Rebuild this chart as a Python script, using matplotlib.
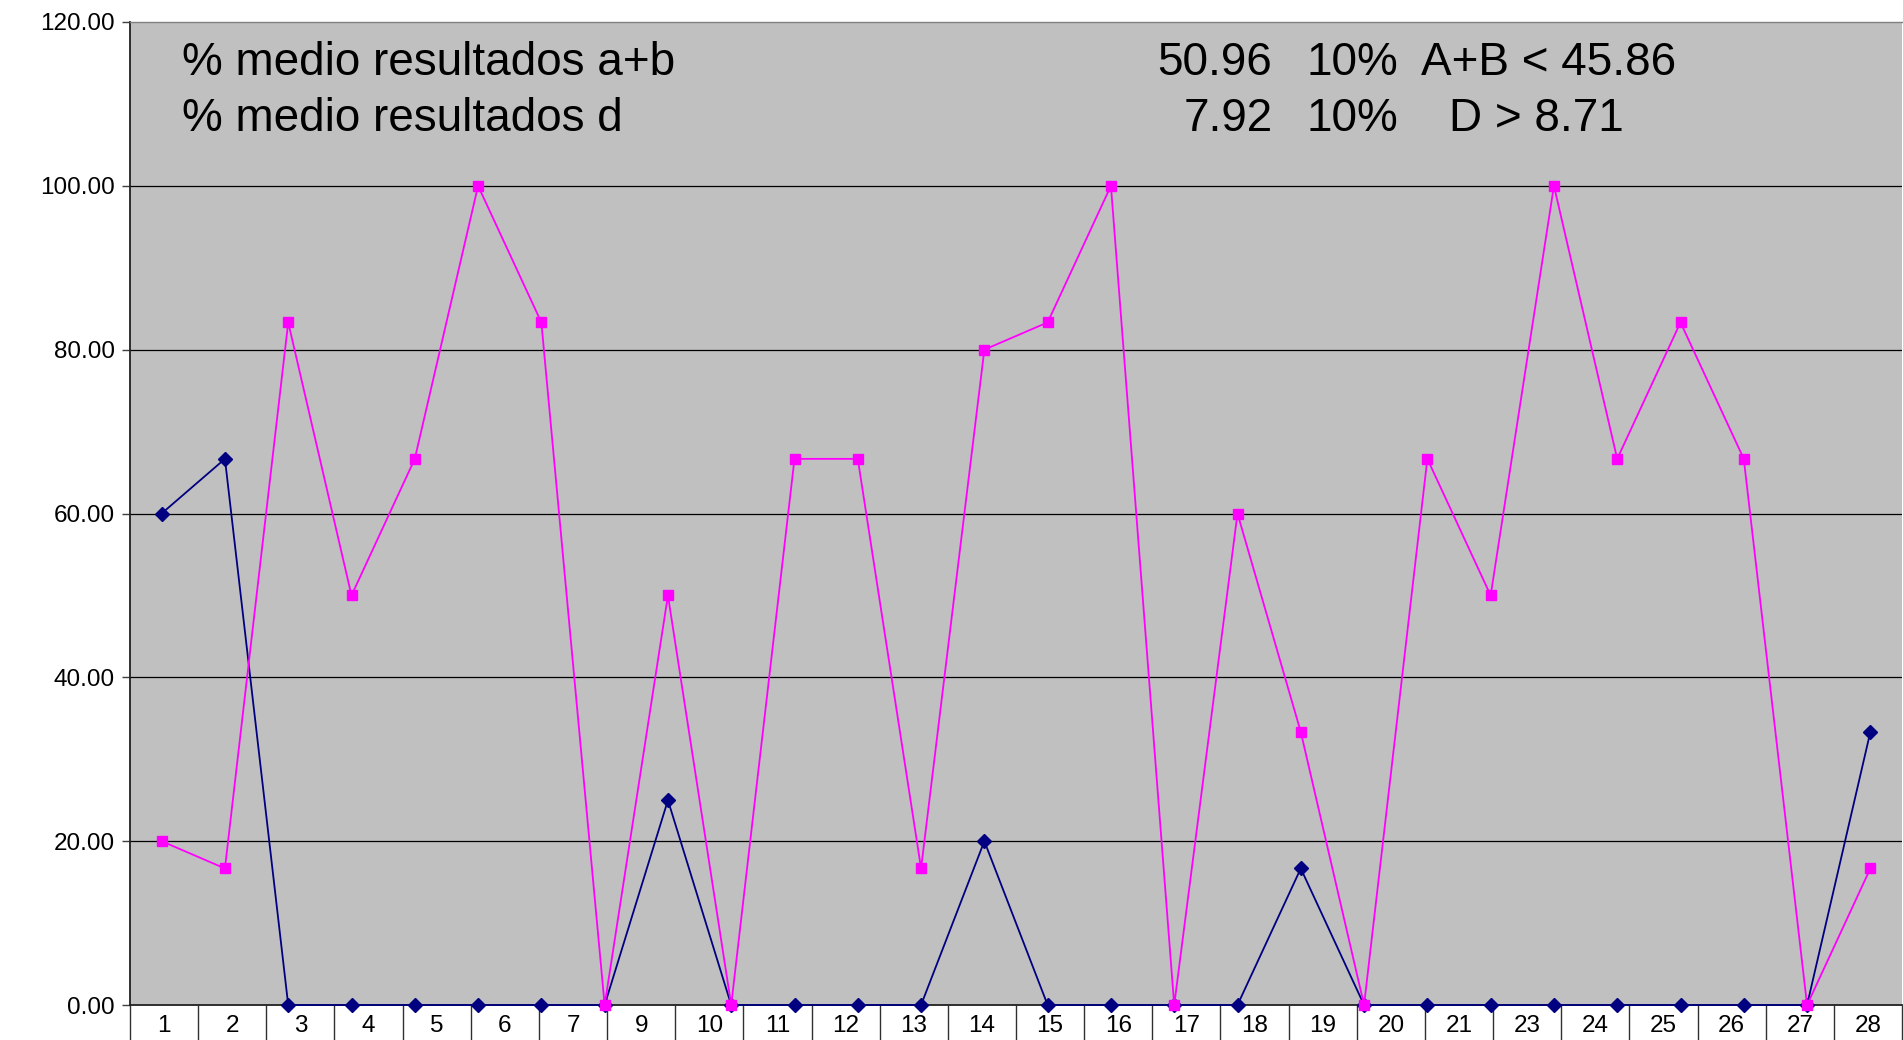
import numpy as np
import matplotlib
matplotlib.use('Agg')
import matplotlib.pyplot as plt

plt.rcParams['font.family'] = ['Liberation Sans', 'DejaVu Sans']

# Data (28 points per series)
points = list(range(1, 29))
pct_d = [60, 66.67, 0, 0, 0, 0, 0, 0, 25, 0, 0, 0, 0, 20, 0, 0, 0, 0, 16.67, 0,
         0, 0, 0, 0, 0, 0, 0, 33.33]
pct_ab = [20, 16.67, 83.33, 50, 66.67, 100, 83.33, 0, 50, 0, 66.67, 66.67, 16.67, 80,
          83.33, 100, 0, 60, 33.33, 0, 66.67, 50, 100, 66.67, 83.33, 66.67, 0, 16.67]

# category labels of the axis (8 and 22 are missing in the original)
cat_labels = ['1', '2', '3', '4', '5', '6', '7', '9', '10', '11', '12', '13', '14',
              '15', '16', '17', '18', '19', '20', '21', '23', '24', '25', '26', '27', '28']

y_ticks = [0, 20, 40, 60, 80, 100, 120]

W, H = 1903, 1040
fig = plt.figure(figsize=(W / 100, H / 100), dpi=100)
fig.patch.set_facecolor('white')
ax = fig.add_axes([130 / W, 35 / H, 1772 / W, 983 / H])
ax.set_facecolor('#C0C0C0')

n = len(points)
x = np.arange(n) + 0.5
ax.plot(x, pct_d, color='#000080', lw=1.3, marker='D', ms=7.5,
        mfc='#000080', mec='#000080', clip_on=False, zorder=3)
ax.plot(x, pct_ab, color='#FF00FF', lw=1.3, marker='s', ms=7.5,
        mfc='#FF00FF', mec='#FF00FF', clip_on=False, zorder=4)

ax.set_xlim(0, n)
ax.set_ylim(0, 120)

# y axis
ax.set_yticks(y_ticks)
ax.set_yticklabels(['%.2f' % v for v in y_ticks], fontsize=17.5)
ax.tick_params(axis='y', direction='out', length=6, width=1, pad=5, color='#404040')
for v in y_ticks[1:-1]:
    ax.axhline(v, color='black', lw=0.9, zorder=1)

# x axis: 26 category cells spanning the width
ncat = len(cat_labels)
bounds = np.arange(ncat + 1) * n / ncat
centers = (np.arange(ncat) + 0.5) * n / ncat
ax.set_xticks(bounds)
ax.set_xticklabels([''] * len(bounds))
ax.tick_params(axis='x', which='major', direction='out', length=26, width=1, color='#303030')
ax.set_xticks(centers, minor=True)
ax.set_xticklabels(cat_labels, minor=True, fontsize=17.5)
ax.tick_params(axis='x', which='minor', length=0, pad=7)

for s in ['left', 'bottom']:
    ax.spines[s].set_color('#202020')
    ax.spines[s].set_linewidth(1.3)
ax.spines['top'].set_color('#808080')
ax.spines['top'].set_linewidth(1)
ax.spines['right'].set_visible(False)

# annotations
fs = 33
tr = ax.transAxes
ax.text(0.0293, 0.9465, '% medio resultados a+b', transform=tr, fontsize=fs, va='baseline')
ax.text(0.0293, 0.8895, '% medio resultados d', transform=tr, fontsize=fs, va='baseline')
ax.text(0.6447, 0.9465, '50.96', transform=tr, fontsize=fs, va='baseline', ha='right')
ax.text(0.6447, 0.8895, '7.92', transform=tr, fontsize=fs, va='baseline', ha='right')
ax.text(0.6638, 0.9465, '10%', transform=tr, fontsize=fs, va='baseline')
ax.text(0.6638, 0.8895, '10%', transform=tr, fontsize=fs, va='baseline')
ax.text(0.7287, 0.9465, 'A+B < 45.86', transform=tr, fontsize=fs, va='baseline')
ax.text(0.7445, 0.8895, 'D > 8.71', transform=tr, fontsize=fs, va='baseline')

fig.savefig('out.png', dpi=100)
